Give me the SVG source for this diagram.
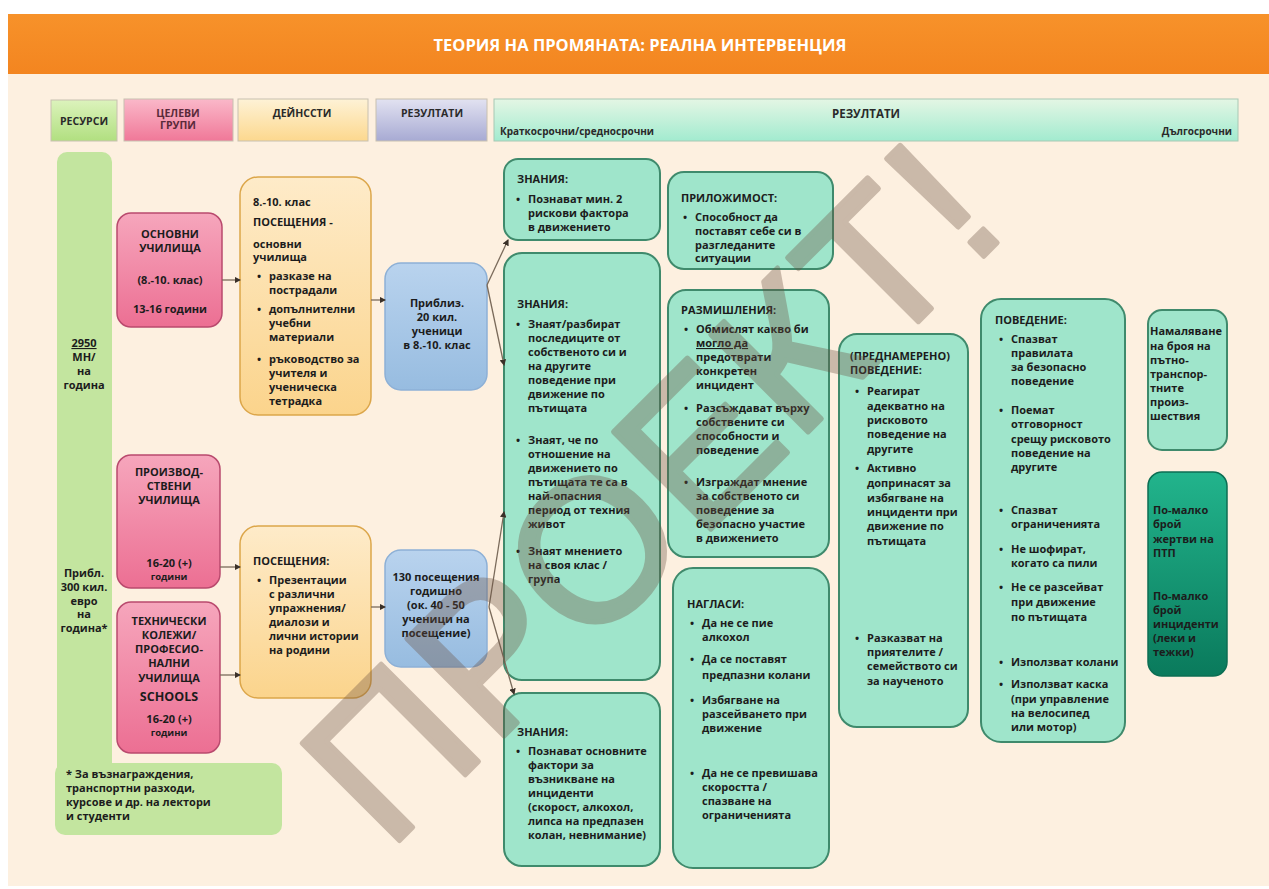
<svg xmlns="http://www.w3.org/2000/svg" width="1269" height="889" viewBox="0 0 1269 889">
<defs>
<linearGradient id="gOrange" x1="0" y1="0" x2="0" y2="1"><stop offset="0" stop-color="#f7922a"/><stop offset="1" stop-color="#f38520"/></linearGradient>
<linearGradient id="gRes" x1="0" y1="0" x2="0" y2="1"><stop offset="0" stop-color="#dcf3bc"/><stop offset="1" stop-color="#b1df80"/></linearGradient>
<linearGradient id="gPinkH" x1="0" y1="0" x2="0" y2="1"><stop offset="0" stop-color="#fab8c9"/><stop offset="1" stop-color="#f07898"/></linearGradient>
<linearGradient id="gYelH" x1="0" y1="0" x2="0" y2="1"><stop offset="0" stop-color="#fef2d6"/><stop offset="1" stop-color="#fcd88e"/></linearGradient>
<linearGradient id="gBluH" x1="0" y1="0" x2="0" y2="1"><stop offset="0" stop-color="#e2e2f1"/><stop offset="1" stop-color="#a7aad3"/></linearGradient>
<linearGradient id="gGrnH" x1="0" y1="0" x2="0" y2="1"><stop offset="0" stop-color="#e4f6e4"/><stop offset="1" stop-color="#a2ebcf"/></linearGradient>
<linearGradient id="gPink" x1="0" y1="0" x2="0" y2="1"><stop offset="0" stop-color="#f6a6bc"/><stop offset="1" stop-color="#ec6f93"/></linearGradient>
<linearGradient id="gYel" x1="0" y1="0" x2="0" y2="1"><stop offset="0" stop-color="#feebc9"/><stop offset="1" stop-color="#fbd48c"/></linearGradient>
<linearGradient id="gBlu" x1="0" y1="0" x2="0" y2="1"><stop offset="0" stop-color="#b9d3ee"/><stop offset="1" stop-color="#97bce0"/></linearGradient>
<linearGradient id="gDark" x1="0" y1="0" x2="0" y2="1"><stop offset="0" stop-color="#22b48c"/><stop offset="1" stop-color="#0a7a5c"/></linearGradient>
<marker id="arr" viewBox="0 0 6 6" refX="5" refY="3" markerWidth="5" markerHeight="5" orient="auto"><path d="M0,0 L6,3 L0,6 z" fill="#3a3028"/></marker>
</defs>
<style>
.t{font-family:"Open Sans","Liberation Sans",sans-serif;font-weight:700;font-size:11px;fill:#1c1c1c}
.c{text-anchor:middle}
.hd{font-family:"Open Sans","Liberation Sans",sans-serif;font-weight:700;font-size:10.5px;fill:#2a2a2a}
.mint{fill:#9fe5cb;stroke:#3f8a6c;stroke-width:2}
.pink{fill:url(#gPink);stroke:#b94a6e;stroke-width:1.5}
.yel{fill:url(#gYel);stroke:#dca64a;stroke-width:1.5}
.blu{fill:url(#gBlu);stroke:#8db0d6;stroke-width:1.5}
.res{fill:#c3e59f}
.hbox{stroke:#c8c0b0;stroke-width:1}
.conn{fill:none;stroke:#7a6a5a;stroke-width:1.3;marker-end:url(#arr)}
</style>
<rect x="0" y="0" width="1269" height="889" fill="#ffffff"/>
<rect x="8" y="74" width="1261" height="812" fill="#fdf0e0"/>
<g id="title">
<rect x="8" y="14" width="1261" height="60" fill="url(#gOrange)"/>
<text x="640" y="51" text-anchor="middle" font-family="Open Sans, Liberation Sans, sans-serif" font-weight="700" font-size="16.5" fill="#ffffff">ТЕОРИЯ НА ПРОМЯНАТА: РЕАЛНА ИНТЕРВЕНЦИЯ</text>
</g>
<g id="headers">
<rect class="hbox" x="51" y="100" width="66" height="41" fill="url(#gRes)"/>
<text class="hd c" x="84" y="125">РЕСУРСИ</text>
<rect class="hbox" x="124" y="99" width="109" height="42" fill="url(#gPinkH)"/>
<text class="hd c" x="178" y="117" style="fill:#5a2a3a">ЦЕЛЕВИ</text>
<text class="hd c" x="178" y="129" style="fill:#5a2a3a">ГРУПИ</text>
<rect class="hbox" x="238" y="99" width="130" height="42" fill="url(#gYelH)"/>
<text class="hd c" x="302" y="117">ДЕЙНССТИ</text>
<rect class="hbox" x="376" y="99" width="111" height="42" fill="url(#gBluH)"/>
<text class="hd c" x="432" y="117">РЕЗУЛТАТИ</text>
<rect x="494" y="99" width="744" height="42" fill="url(#gGrnH)" stroke="#a8c8b4" stroke-width="1"/>
<text class="hd c" x="866" y="118" style="font-size:11.5px">РЕЗУЛТАТИ</text>
<text class="hd" x="500" y="135" style="font-size:10px">Краткосрочни/средносрочни</text>
<text class="hd" x="1232" y="135" text-anchor="end" style="font-size:10px">Дългосрочни</text>
</g>
<g id="resources">
<rect class="res" x="57" y="152" width="55" height="640" rx="10"/>
<rect class="res" x="55" y="763" width="227" height="72" rx="10"/>
<text class="t c" x="84" y="347" text-decoration="underline">2950</text>
<text class="t c" x="84" y="361">МН/</text>
<text class="t c" x="84" y="375">на</text>
<text class="t c" x="84" y="389">година</text>
<text class="t c" x="84" y="577">Прибл.</text>
<text class="t c" x="84" y="591">300 кил.</text>
<text class="t c" x="84" y="605">евро</text>
<text class="t c" x="84" y="618">на</text>
<text class="t c" x="84" y="632">година*</text>
<text class="t" x="66" y="778">* За възнаграждения,</text>
<text class="t" x="66" y="792">транспортни разходи,</text>
<text class="t" x="66" y="806">курсове и др. на лектори</text>
<text class="t" x="66" y="820">и студенти</text>
</g>
<g id="grp-basic">
<rect class="pink" x="117" y="213" width="105" height="114" rx="14"/>
<text class="t c" x="170" y="238">ОСНОВНИ</text>
<text class="t c" x="170" y="252">УЧИЛИЩА</text>
<text class="t c" x="170" y="284">(8.-10. клас)</text>
<text class="t c" x="170" y="313">13-16 години</text>
</g>
<g id="grp-prod">
<rect class="pink" x="117" y="455" width="103" height="133" rx="14"/>
<text class="t c" x="169" y="476">ПРОИЗВОД-</text>
<text class="t c" x="169" y="490">СТВЕНИ</text>
<text class="t c" x="169" y="504">УЧИЛИЩА</text>
<text class="t c" x="169" y="567">16-20 (+)</text>
<text class="t c" x="169" y="580" style="font-size:9.5px">години</text>
</g>
<g id="grp-tech">
<rect class="pink" x="117" y="602" width="103" height="151" rx="14"/>
<text class="t c" x="169" y="625">ТЕХНИЧЕСКИ</text>
<text class="t c" x="169" y="639">КОЛЕЖИ/</text>
<text class="t c" x="169" y="653">ПРОФЕСИО-</text>
<text class="t c" x="169" y="667">НАЛНИ</text>
<text class="t c" x="169" y="682">УЧИЛИЩА</text>
<text class="t c" x="169" y="701" style="font-size:12.5px">SCHOOLS</text>
<text class="t c" x="169" y="723">16-20 (+)</text>
<text class="t c" x="169" y="736" style="font-size:9.5px">години</text>
</g>
<g id="act-basic">
<rect class="yel" x="240" y="177" width="131" height="238" rx="18"/>
<text class="t" x="253" y="206">8.-10. клас</text>
<text class="t" x="253" y="226">ПОСЕЩЕНИЯ -</text>
<text class="t" x="253" y="248">основни</text>
<text class="t" x="253" y="261">училища</text>
<text class="t" x="257" y="280">•</text><text class="t" x="269" y="280">разказе на</text>
<text class="t" x="269" y="294">пострадали</text>
<text class="t" x="257" y="313">•</text><text class="t" x="269" y="313">допълнителни</text>
<text class="t" x="269" y="327">учебни</text>
<text class="t" x="269" y="341">материали</text>
<text class="t" x="257" y="363">•</text><text class="t" x="269" y="363">ръководство за</text>
<text class="t" x="269" y="377">учителя и</text>
<text class="t" x="269" y="391">ученическа</text>
<text class="t" x="269" y="405">тетрадка</text>
</g>
<g id="act-visits">
<rect class="yel" x="240" y="526" width="131" height="172" rx="18"/>
<text class="t" x="253" y="565">ПОСЕЩЕНИЯ:</text>
<text class="t" x="257" y="584">•</text><text class="t" x="269" y="584">Презентации</text>
<text class="t" x="269" y="598">с различни</text>
<text class="t" x="269" y="612">упражнения/</text>
<text class="t" x="269" y="626">диалози и</text>
<text class="t" x="269" y="640">лични истории</text>
<text class="t" x="269" y="654">на родини</text>
</g>
<g id="out-students">
<rect class="blu" x="385" y="263" width="102" height="127" rx="16"/>
<text class="t c" x="437" y="307">Приблиз.</text>
<text class="t c" x="437" y="321">20 кил.</text>
<text class="t c" x="437" y="335">ученици</text>
<text class="t c" x="437" y="349">в 8.-10. клас</text>
</g>
<g id="out-visits">
<rect class="blu" x="385" y="550" width="102" height="117" rx="16"/>
<text class="t c" x="436" y="581">130 посещения</text>
<text class="t c" x="436" y="595">годишно</text>
<text class="t c" x="436" y="609">(ок. 40 - 50</text>
<text class="t c" x="436" y="623">ученици на</text>
<text class="t c" x="436" y="637">посещение)</text>
</g>
<g id="know1">
<rect class="mint" x="504" y="159" width="156" height="81" rx="14"/>
<text class="t" x="517" y="183">ЗНАНИЯ:</text>
<text class="t" x="516" y="203">•</text><text class="t" x="528" y="203">Познават мин. 2</text>
<text class="t" x="528" y="217">рискови фактора</text>
<text class="t" x="528" y="231">в движението</text>
</g>
<g id="know2">
<rect class="mint" x="504" y="253" width="156" height="427" rx="18"/>
<text class="t" x="517" y="308">ЗНАНИЯ:</text>
<text class="t" x="516" y="328">•</text><text class="t" x="528" y="328">Знаят/разбират</text>
<text class="t" x="528" y="342">последиците от</text>
<text class="t" x="528" y="356">собственото си и</text>
<text class="t" x="528" y="370">на другите</text>
<text class="t" x="528" y="384">поведение при</text>
<text class="t" x="528" y="398">движение по</text>
<text class="t" x="528" y="412">пътищата</text>
<text class="t" x="516" y="444">•</text><text class="t" x="528" y="444">Знаят, че по</text>
<text class="t" x="528" y="458">отношение на</text>
<text class="t" x="528" y="472">движението по</text>
<text class="t" x="528" y="486">пътищата те са в</text>
<text class="t" x="528" y="500">най-опасния</text>
<text class="t" x="528" y="514">период от техния</text>
<text class="t" x="528" y="528">живот</text>
<text class="t" x="516" y="555">•</text><text class="t" x="528" y="555">Знаят мнението</text>
<text class="t" x="528" y="569">на своя клас /</text>
<text class="t" x="528" y="583">група</text>
</g>
<g id="know3">
<rect class="mint" x="504" y="693" width="156" height="173" rx="18"/>
<text class="t" x="517" y="736">ЗНАНИЯ:</text>
<text class="t" x="516" y="755">•</text><text class="t" x="528" y="755">Познават основните</text>
<text class="t" x="528" y="769">фактори за</text>
<text class="t" x="528" y="783">възникване на</text>
<text class="t" x="528" y="797">инциденти</text>
<text class="t" x="528" y="811">(скорост, алкохол,</text>
<text class="t" x="528" y="825">липса на предпазен</text>
<text class="t" x="528" y="839">колан, невнимание)</text>
</g>
<g id="apply">
<rect class="mint" x="668" y="172" width="165" height="97" rx="16"/>
<text class="t" x="681" y="202">ПРИЛОЖИМОСТ:</text>
<text class="t" x="683" y="221">•</text><text class="t" x="695" y="221">Способност да</text>
<text class="t" x="695" y="235">поставят себе си в</text>
<text class="t" x="695" y="249">разгледаните</text>
<text class="t" x="695" y="262">ситуации</text>
</g>
<g id="reflect">
<rect class="mint" x="668" y="290" width="161" height="267" rx="18"/>
<text class="t" x="681" y="314">РАЗМИШЛЕНИЯ:</text>
<text class="t" x="684" y="333">•</text><text class="t" x="696" y="333">Обмислят какво би</text>
<text class="t" x="696" y="347" text-decoration="underline">могло да</text>
<text class="t" x="696" y="361">предотврати</text>
<text class="t" x="696" y="375">конкретен</text>
<text class="t" x="696" y="389">инцидент</text>
<text class="t" x="684" y="412">•</text><text class="t" x="696" y="412">Разсъждават върху</text>
<text class="t" x="696" y="426">собствените си</text>
<text class="t" x="696" y="440">способности и</text>
<text class="t" x="696" y="454">поведение</text>
<text class="t" x="684" y="486">•</text><text class="t" x="696" y="486">Изграждат мнение</text>
<text class="t" x="696" y="500">за собственото си</text>
<text class="t" x="696" y="514">поведение за</text>
<text class="t" x="696" y="528">безопасно участие</text>
<text class="t" x="696" y="542">в движението</text>
</g>
<g id="attitudes">
<rect class="mint" x="673" y="568" width="156" height="300" rx="20"/>
<text class="t" x="687" y="608">НАГЛАСИ:</text>
<text class="t" x="690" y="627">•</text><text class="t" x="702" y="627">Да не се пие</text>
<text class="t" x="702" y="641">алкохол</text>
<text class="t" x="690" y="663">•</text><text class="t" x="702" y="663">Да се поставят</text>
<text class="t" x="702" y="679">предпазни колани</text>
<text class="t" x="690" y="704">•</text><text class="t" x="702" y="704">Избягване на</text>
<text class="t" x="702" y="718">разсейването при</text>
<text class="t" x="702" y="732">движение</text>
<text class="t" x="690" y="777">•</text><text class="t" x="702" y="777">Да не се превишава</text>
<text class="t" x="702" y="791">скоростта /</text>
<text class="t" x="702" y="805">спазване на</text>
<text class="t" x="702" y="819">ограниченията</text>
</g>
<g id="intended">
<rect class="mint" x="839" y="334" width="129" height="393" rx="18"/>
<text class="t" x="850" y="360">(ПРЕДНАМЕРЕНО)</text>
<text class="t" x="850" y="374">ПОВЕДЕНИЕ:</text>
<text class="t" x="855" y="395">•</text><text class="t" x="867" y="395">Реагират</text>
<text class="t" x="867" y="410">адекватно на</text>
<text class="t" x="867" y="424">рисковото</text>
<text class="t" x="867" y="438">поведение на</text>
<text class="t" x="867" y="453">другите</text>
<text class="t" x="855" y="472">•</text><text class="t" x="867" y="472">Активно</text>
<text class="t" x="867" y="487">допринасят за</text>
<text class="t" x="867" y="502">избягване на</text>
<text class="t" x="867" y="516">инциденти при</text>
<text class="t" x="867" y="530">движение по</text>
<text class="t" x="867" y="545">пътищата</text>
<text class="t" x="855" y="642">•</text><text class="t" x="867" y="642">Разказват на</text>
<text class="t" x="867" y="656">приятелите /</text>
<text class="t" x="867" y="670">семейството си</text>
<text class="t" x="867" y="685">за наученото</text>
</g>
<g id="behaviour">
<rect class="mint" x="981" y="299" width="144" height="443" rx="20"/>
<text class="t" x="995" y="324">ПОВЕДЕНИЕ:</text>
<text class="t" x="999" y="343">•</text><text class="t" x="1011" y="343">Спазват</text>
<text class="t" x="1011" y="357">правилата</text>
<text class="t" x="1011" y="371">за безопасно</text>
<text class="t" x="1011" y="385">поведение</text>
<text class="t" x="999" y="414">•</text><text class="t" x="1011" y="414">Поемат</text>
<text class="t" x="1011" y="428">отговорност</text>
<text class="t" x="1011" y="443">срещу рисковото</text>
<text class="t" x="1011" y="457">поведение на</text>
<text class="t" x="1011" y="471">другите</text>
<text class="t" x="999" y="514">•</text><text class="t" x="1011" y="514">Спазват</text>
<text class="t" x="1011" y="528">ограниченията</text>
<text class="t" x="999" y="553">•</text><text class="t" x="1011" y="553">Не шофират,</text>
<text class="t" x="1011" y="567">когато са пили</text>
<text class="t" x="999" y="591">•</text><text class="t" x="1011" y="591">Не се разсейват</text>
<text class="t" x="1011" y="606">при движение</text>
<text class="t" x="1011" y="621">по пътищата</text>
<text class="t" x="999" y="666">•</text><text class="t" x="1011" y="666">Използват колани</text>
<text class="t" x="999" y="688">•</text><text class="t" x="1011" y="688">Използват каска</text>
<text class="t" x="1011" y="703">(при управление</text>
<text class="t" x="1011" y="717">на велосипед</text>
<text class="t" x="1011" y="731">или мотор)</text>
</g>
<g id="reduce">
<rect class="mint" x="1148" y="310" width="79" height="140" rx="14"/>
<text class="t" x="1150" y="335">Намаляване</text>
<text class="t" x="1150" y="350">на броя на</text>
<text class="t" x="1150" y="364">пътно-</text>
<text class="t" x="1150" y="378">транспор-</text>
<text class="t" x="1150" y="392">тните</text>
<text class="t" x="1150" y="406">произ-</text>
<text class="t" x="1150" y="420">шествия</text>
</g>
<g id="fewer">
<rect x="1148" y="472" width="79" height="204" rx="14" fill="url(#gDark)" stroke="#0c6e53" stroke-width="1.5"/>
<text class="t" x="1153" y="514">По-малко</text>
<text class="t" x="1153" y="528">брой</text>
<text class="t" x="1153" y="543">жертви на</text>
<text class="t" x="1153" y="557">ПТП</text>
<text class="t" x="1153" y="600">По-малко</text>
<text class="t" x="1153" y="614">брой</text>
<text class="t" x="1153" y="628">инциденти</text>
<text class="t" x="1153" y="642">(леки и</text>
<text class="t" x="1153" y="656">тежки)</text>
</g>
<g id="connectors">
<path class="conn" d="M222,280 L240,280"/>
<path class="conn" d="M371,300 L385,300"/>
<path class="conn" d="M220,567 L240,567"/>
<path class="conn" d="M220,675 L240,675"/>
<path class="conn" d="M371,607 L385,607"/>
<path class="conn" d="M487,285 L508,240"/>
<path class="conn" d="M487,285 L504,365"/>
<path class="conn" d="M489,607 L504,512"/>
<path class="conn" d="M489,607 L514,694"/>
</g>
<g id="watermark" opacity="0.34">
<text transform="translate(388,852) rotate(-45)" font-family="Liberation Sans, Arial, sans-serif" font-weight="400" font-size="200" letter-spacing="4" fill="#6b5040" stroke="#6b5040" stroke-width="5" stroke-linejoin="round">ПРОЕКТ!</text>
</g>
</svg>
